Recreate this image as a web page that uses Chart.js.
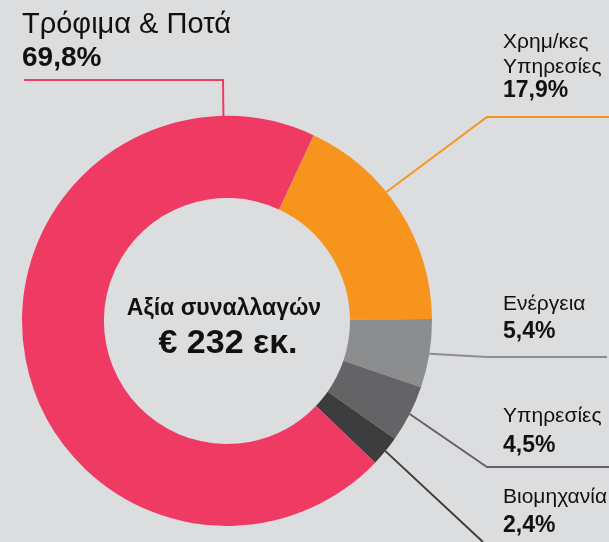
<!DOCTYPE html>
<html>
<head>
<meta charset="utf-8">
<script src="https://cdn.jsdelivr.net/npm/chart.js@4"></script>
<style>
  html, body { margin: 0; padding: 0; background: #dcdddf; }
  canvas { display: block; }
</style>
</head>
<body>
<canvas id="chart" width="609" height="542"></canvas>
<script>
const categories = ['Χρημ/κες Υπηρεσίες', 'Ενέργεια', 'Υπηρεσίες', 'Βιομηχανία', 'Τρόφιμα & Ποτά'];
const shares = [17.9, 5.4, 4.5, 2.4, 69.8];
const labelLines = [['Χρημ/κες', 'Υπηρεσίες'], ['Ενέργεια'], ['Υπηρεσίες'], ['Βιομηχανία'], ['Τρόφιμα & Ποτά']];
const centerTitle = 'Αξία συναλλαγών';
const centerValue = '€ 232 εκ.';

const colors = ['#f7941d', '#8c8d8f', '#646466', '#3d3d3e', '#ef3b64'];
const FONT = '"Liberation Sans", Arial, sans-serif';

// where each label and its leader line sit
const leaders = [
  { angle: -39, bend: [487, 117], end: [609, 117], tx: 503, ty: [48, 73, 97], size: 21, bold: 23 },
  { angle: null, bend: [487, 357], end: [607, 357], tx: 503, ty: [310, 338], size: 21, bold: 23 },
  { angle: null, bend: [487, 467], end: [609, 467], tx: 503, ty: [422, 452], size: 21, bold: 23 },
  { angle: null, bend: null, end: [483, 542], tx: 503, ty: [503, 532], size: 21, bold: 23 },
  { angle: -91, bend: [223, 80], end: [24, 80], tx: 22, ty: [33, 66], size: 29, bold: 28 }
];

const fmt = v => v.toFixed(1).replace('.', ',') + '%';

const labelsPlugin = {
  id: 'leaderLabels',
  afterDraw(chart) {
    const ctx = chart.ctx;
    const meta = chart.getDatasetMeta(0);
    ctx.save();
    meta.data.forEach((arc, i) => {
      const p = arc.getProps(['x', 'y', 'startAngle', 'endAngle', 'outerRadius'], true);
      const L = leaders[i];
      const a = L.angle !== null ? L.angle * Math.PI / 180 : (p.startAngle + p.endAngle) / 2;
      const sx = p.x + Math.cos(a) * p.outerRadius;
      const sy = p.y + Math.sin(a) * p.outerRadius;
      ctx.strokeStyle = colors[i];
      ctx.lineWidth = 2;
      ctx.beginPath();
      ctx.moveTo(sx, sy);
      if (L.bend) ctx.lineTo(L.bend[0], L.bend[1]);
      ctx.lineTo(L.end[0], L.end[1]);
      ctx.stroke();

      ctx.fillStyle = '#111';
      ctx.textAlign = 'left';
      ctx.textBaseline = 'alphabetic';
      const lines = labelLines[i];
      ctx.font = L.size + 'px ' + FONT;
      lines.forEach((t, k) => ctx.fillText(t, L.tx, L.ty[k]));
      ctx.font = 'bold ' + L.bold + 'px ' + FONT;
      ctx.fillText(fmt(shares[i]), L.tx, L.ty[lines.length]);
    });

    const c = meta.data[0].getProps(['x', 'y'], true);
    ctx.fillStyle = '#111';
    ctx.textAlign = 'center';
    ctx.font = 'bold 23px ' + FONT;
    ctx.fillText(centerTitle, c.x - 3, 315);
    ctx.font = 'bold 34px ' + FONT;
    ctx.fillText(centerValue, c.x + 1, 353);
    ctx.restore();
  }
};

new Chart(document.getElementById('chart'), {
  type: 'doughnut',
  data: {
    labels: categories,
    datasets: [{
      data: shares,
      backgroundColor: colors,
      borderWidth: 0
    }]
  },
  options: {
    responsive: false,
    animation: false,
    rotation: 25,
    cutout: '60%',
    layout: { padding: { left: 22, right: 177, top: 116, bottom: 16 } },
    plugins: {
      legend: { display: false },
      tooltip: { enabled: false }
    }
  },
  plugins: [labelsPlugin]
});
</script>
</body>
</html>
